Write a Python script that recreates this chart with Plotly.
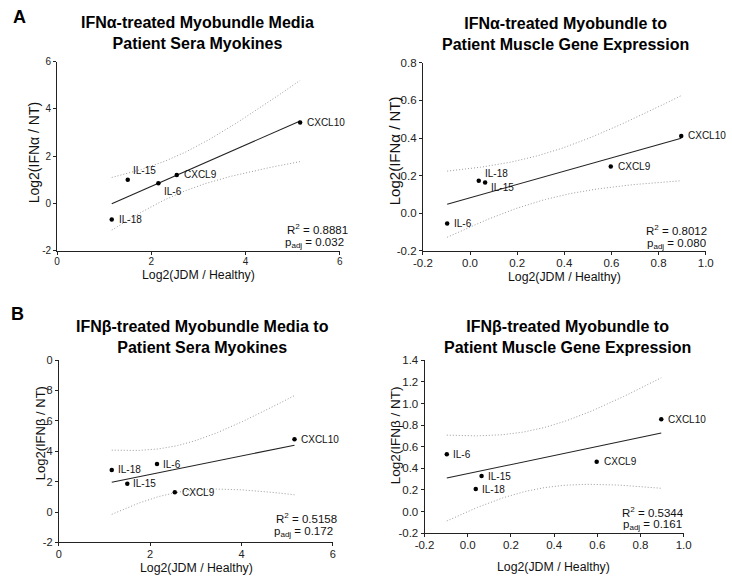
import numpy as np
import plotly.graph_objects as go

# ---------------- data ----------------
genes = ["CXCL9", "CXCL10", "IL-6", "IL-15", "IL-18"]
sera_x = [2.54, 5.16, 2.15, 1.50, 1.16]          # Log2(JDM / Healthy), patient sera
muscle_x = [0.597, 0.896, -0.097, 0.064, 0.037]  # Log2(JDM / Healthy), muscle gene expression
ifna_sera_y = [1.21, 3.42, 0.86, 1.00, -0.68]
ifna_muscle_y = [0.248, 0.411, -0.054, 0.163, 0.173]
ifnb_sera_y = [1.31, 4.80, 3.16, 1.87, 2.77]
ifnb_muscle_y = [0.461, 0.854, 0.531, 0.328, 0.208]

panel_titles = [
    "IFNα-treated Myobundle Media<br>Patient Sera Myokines",
    "IFNα-treated Myobundle to<br>Patient Muscle Gene Expression",
    "IFNβ-treated Myobundle Media to<br>Patient Sera Myokines",
    "IFNβ-treated Myobundle to<br>Patient Muscle Gene Expression",
]
y_titles = ["Log2(IFNα / NT)", "Log2(IFNα / NT)", "Log2(IFNβ / NT)", "Log2(IFNβ / NT)"]
x_title = "Log2(JDM / Healthy)"
r2_values = ["0.8881", "0.8012", "0.5158", "0.5344"]
padj_values = ["0.032", "0.080", "0.172", "0.161"]
panel_letters = ["A", "B"]

panels_x = [sera_x, muscle_x, sera_x, muscle_x]
panels_y = [ifna_sera_y, ifna_muscle_y, ifnb_sera_y, ifnb_muscle_y]

# axis settings
x_ranges = [[0, 6], [-0.2, 1.0], [0, 6], [-0.2, 1.0]]
x_ticks = [[0, 2, 4, 6], [-0.2, 0.0, 0.2, 0.4, 0.6, 0.8, 1.0],
           [0, 2, 4, 6], [-0.2, 0.0, 0.2, 0.4, 0.6, 0.8, 1.0]]
y_ranges = [[-2, 6], [-0.2, 0.8], [-2, 10], [-0.2, 1.4]]
y_ticks = [[-2, 0, 2, 4, 6], [-0.2, 0.0, 0.2, 0.4, 0.6, 0.8],
           [-2, 0, 2, 4, 6, 8, 10], [-0.2, 0.0, 0.2, 0.4, 0.6, 0.8, 1.0, 1.2, 1.4]]
y_ticktext = [["-2", "0", "2", "4", "6"],
              ["-0.2", "0.0", "0.2", "0.4", "0.6", "0.8"],
              ["-2", "0", "2", "4", "6", "8", "0"],
              ["-0.2", "0.0", "0.2", "0.4", "0.6", "0.8", "1.0", "1.2", "1.4"]]
x_ticktext = [["0", "2", "4", "6"],
              ["-0.2", "0.0", "0.2", "0.4", "0.6", "0.8", "1.0"],
              ["0", "2", "4", "6"],
              ["-0.2", "0.0", "0.2", "0.4", "0.6", "0.8", "1.0"]]

# ---------------- layout geometry (pixels) ----------------
W, H = 732, 582
# plot areas: left, right, top, bottom
boxes = [(48.3, 338.0, 56.7, 250.0),
         (423.3, 713.3, 58.0, 250.0),
         (50.0, 331.0, 361.7, 547.7),
         (425.0, 690.7, 361.7, 538.3)]
tick_sizes = [10, 11.5, 11, 11.5]
ytitle_sizes = [14, 15, 13, 13.5]
title_pos = [(192, 28), (570, 28.5), (197, 337.5), (572, 337.5)]
xtitle_pos = [(193, 275), (568, 277), (191, 574), (557, 573)]
ytitle_pos = [(25, 150), (395, 148), (31, 436), (396, 438)]
r2_pos = [(349, 228), (717, 229), (337, 522.5), (693, 516.5)]
p_pos = [(344, 242), (716, 243), (333, 537), (691, 530)]
letter_pos = [(10, 11), (8, 314)]

# label offsets (px) per panel, in gene order
label_offsets = [
    {"CXCL9": (3, 0), "CXCL10": (3, 0), "IL-6": (2, 8), "IL-15": (1, -9), "IL-18": (3, 0)},
    {"CXCL9": (3, 0), "CXCL10": (3, 0), "IL-6": (3, 0), "IL-15": (2, 5), "IL-18": (2, -7)},
    {"CXCL9": (3, 0), "CXCL10": (3, 0), "IL-6": (2, 0), "IL-15": (2, 0), "IL-18": (2, 0)},
    {"CXCL9": (3, 0), "CXCL10": (3, 0), "IL-6": (2, 0), "IL-15": (2, 0), "IL-18": (2, 0)},
]

FONT = "Liberation Sans, Arial, Helvetica, sans-serif"
T_975_DF3 = 3.182446


def fx(px):
    return px / W


def fy(py):
    return 1 - py / H


fig = go.Figure()
annotations = []

for i in range(4):
    xs = np.array(panels_x[i], dtype=float)
    ys = np.array(panels_y[i], dtype=float)
    n = len(xs)
    xa = "x" if i == 0 else f"x{i+1}"
    ya = "y" if i == 0 else f"y{i+1}"

    # linear regression and 95% confidence band
    slope, intercept = np.polyfit(xs, ys, 1)
    mx = xs.mean()
    sxx = ((xs - mx) ** 2).sum()
    resid = ys - (intercept + slope * xs)
    s = np.sqrt((resid ** 2).sum() / (n - 2))
    grid = np.linspace(xs.min(), xs.max(), 120)
    fit = intercept + slope * grid
    se = s * np.sqrt(1.0 / n + (grid - mx) ** 2 / sxx)
    upper = fit + T_975_DF3 * se
    lower = fit - T_975_DF3 * se

    for band in (upper, lower):
        fig.add_trace(go.Scatter(x=grid, y=band, mode="lines", xaxis=xa, yaxis=ya,
                                 line=dict(color="#9a9a9a", width=1, dash="1px,2px"),
                                 showlegend=False, hoverinfo="skip"))
    fig.add_trace(go.Scatter(x=[grid[0], grid[-1]], y=[fit[0], fit[-1]], mode="lines",
                             xaxis=xa, yaxis=ya, line=dict(color="#222222", width=1.1),
                             showlegend=False, hoverinfo="skip"))
    fig.add_trace(go.Scatter(x=xs, y=ys, mode="markers", xaxis=xa, yaxis=ya,
                             marker=dict(color="black", size=4.5),
                             showlegend=False, text=genes))

    for g, xv, yv in zip(genes, xs, ys):
        dx, dy = label_offsets[i][g]
        annotations.append(dict(x=xv, y=yv, xref=xa, yref=ya, text=g, showarrow=False,
                                xanchor="left", yanchor="middle", xshift=dx + 2, yshift=-dy,
                                font=dict(family=FONT, size=10, color="#111111")))

    l, r, t, b = boxes[i]
    axis_common = dict(showline=True, linecolor="#222222", linewidth=1, mirror=False,
                       ticks="outside", ticklen=3, tickwidth=1, tickcolor="#222222",
                       showgrid=False, zeroline=False,
                       tickfont=dict(family=FONT, size=tick_sizes[i], color="#222222"))
    xkey = "xaxis" if i == 0 else f"xaxis{i+1}"
    ykey = "yaxis" if i == 0 else f"yaxis{i+1}"
    fig.update_layout(**{
        xkey: dict(domain=[fx(l), fx(r)], range=x_ranges[i], anchor=ya, ticklabelstandoff=-2,
                   tickmode="array", tickvals=x_ticks[i], ticktext=x_ticktext[i], **axis_common),
        ykey: dict(domain=[fy(b), fy(t)], range=y_ranges[i], anchor=xa,
                   tickmode="array", tickvals=y_ticks[i], ticktext=y_ticktext[i], **axis_common),
    })

    tx, ty = title_pos[i]
    annotations.append(dict(x=fx(tx), y=fy(ty), xref="paper", yref="paper",
                            text="<b>" + panel_titles[i] + "</b>",
                            showarrow=False, xanchor="center", yanchor="middle",
                            font=dict(family=FONT, size=16, color="black"), align="center"))
    xx, xy = xtitle_pos[i]
    annotations.append(dict(x=fx(xx), y=fy(xy), xref="paper", yref="paper", text=x_title,
                            showarrow=False, xanchor="center", yanchor="middle",
                            font=dict(family=FONT, size=12.3, color="#111111")))
    yx, yy = ytitle_pos[i]
    annotations.append(dict(x=fx(yx), y=fy(yy), xref="paper", yref="paper", text=y_titles[i],
                            showarrow=False, xanchor="center", yanchor="middle", textangle=-90,
                            font=dict(family=FONT, size=ytitle_sizes[i], color="#111111")))
    rx, ry = r2_pos[i]
    annotations.append(dict(x=fx(rx), y=fy(ry), xref="paper", yref="paper",
                            text=f"R<sup>2</sup> = {r2_values[i]}",
                            showarrow=False, xanchor="right", yanchor="middle",
                            font=dict(family=FONT, size=11.5, color="#111111")))
    px_, py_ = p_pos[i]
    annotations.append(dict(x=fx(px_), y=fy(py_), xref="paper", yref="paper",
                            text=f"p<sub>adj</sub> = {padj_values[i]}",
                            showarrow=False, xanchor="right", yanchor="middle",
                            font=dict(family=FONT, size=11.5, color="#111111")))

for letter, (lx, ly) in zip(panel_letters, letter_pos):
    annotations.append(dict(x=fx(lx), y=fy(ly), xref="paper", yref="paper",
                            text=f"<b>{letter}</b>", showarrow=False,
                            xanchor="center", yanchor="middle",
                            font=dict(family=FONT, size=18, color="black")))

fig.update_layout(width=W, height=H, margin=dict(l=0, r=0, t=0, b=0),
                  paper_bgcolor="white", plot_bgcolor="white",
                  annotations=annotations, showlegend=False)

fig.write_html("out.html")
